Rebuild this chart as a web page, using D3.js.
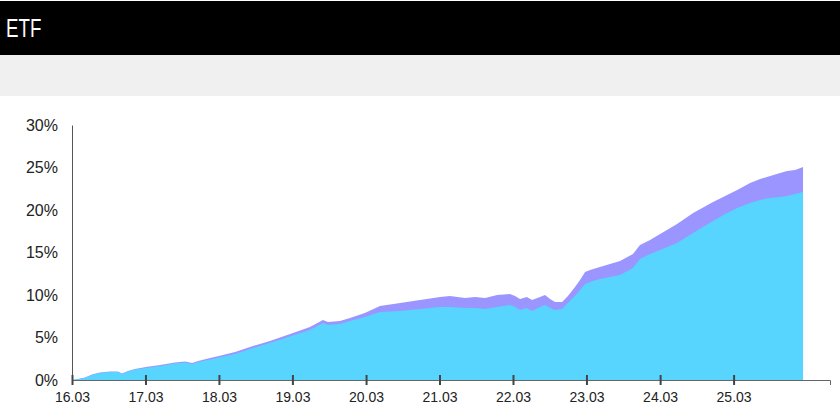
<!DOCTYPE html>
<html>
<head>
<meta charset="utf-8">
<script src="https://cdn.jsdelivr.net/npm/d3@7"></script>
<style>
  body { margin: 0; background: #fff; }
  svg { display: block; }
  .title { font-family: "Liberation Sans", Arial, sans-serif; fill: #fff; }
  .axis text { font-family: "Liberation Sans", Arial, sans-serif; fill: #222; }
</style>
</head>
<body>
<div id="chart"></div>
<script>
// dates of the readings
const dates = [
  "2016-03-01","2016-03-31","2016-05-05","2016-06-08","2016-07-18","2016-09-06","2016-10-16","2016-11-04","2016-12-04","2017-01-08",
  "2017-03-03","2017-05-13","2017-07-26","2017-09-14","2017-10-19","2017-11-18","2018-01-16","2018-03-01","2018-05-20","2018-08-17",
  "2018-11-09","2019-03-04","2019-05-27","2019-07-31","2019-08-24","2019-10-23","2019-12-12","2020-02-24","2020-05-09","2020-08-17",
  "2020-11-24","2021-03-04","2021-04-22","2021-07-06","2021-08-24","2021-10-13","2021-12-12","2022-02-14","2022-03-11","2022-04-05",
  "2022-05-09","2022-06-04","2022-07-13","2022-08-07","2022-09-01","2022-09-26","2022-10-31","2022-11-29","2023-01-03","2023-01-28",
  "2023-02-22","2023-03-19","2023-05-07","2023-06-26","2023-08-15","2023-10-18","2023-11-22","2024-01-11","2024-03-01","2024-05-24",
  "2024-08-12","2024-11-19","2025-01-18","2025-03-19","2025-05-22","2025-07-11","2025-08-30","2025-10-18","2025-11-22","2026-01-01",
  "2026-02-09"
];

// upper series (purple), in %
const totalReturn = [
  0, 0.12, 0.29, 0.65, 0.88, 1.0, 1.0, 0.76, 1.06, 1.29,
  1.53, 1.76, 2.06, 2.18, 2.0, 2.24, 2.59, 2.82, 3.29, 4.0,
  4.59, 5.53, 6.24, 7.06, 6.82, 6.94, 7.29, 7.88, 8.71, 9.06,
  9.41, 9.76, 9.88, 9.65, 9.76, 9.65, 10.0, 10.12, 9.88, 9.53,
  9.76, 9.41, 9.76, 10.0, 9.53, 9.18, 9.18, 9.88, 10.94, 11.76,
  12.71, 12.94, 13.29, 13.65, 14.0, 14.82, 15.88, 16.47, 17.18, 18.35,
  19.65, 20.94, 21.65, 22.35, 23.18, 23.65, 24.0, 24.35, 24.59, 24.71,
  25.06
];

// lower series (cyan), in %
const priceReturn = [
  0, 0.12, 0.24, 0.59, 0.82, 0.94, 0.94, 0.71, 1.0, 1.24,
  1.41, 1.65, 1.94, 2.06, 1.88, 2.12, 2.41, 2.65, 3.06, 3.76,
  4.35, 5.24, 5.88, 6.71, 6.47, 6.59, 6.94, 7.41, 8.0, 8.12,
  8.35, 8.59, 8.59, 8.47, 8.47, 8.35, 8.59, 8.82, 8.59, 8.24,
  8.47, 8.12, 8.59, 8.82, 8.47, 8.24, 8.35, 9.06, 9.88, 10.59,
  11.29, 11.53, 11.88, 12.12, 12.35, 13.18, 14.24, 14.82, 15.29, 16.12,
  17.29, 18.71, 19.53, 20.24, 20.82, 21.18, 21.41, 21.53, 21.65, 21.88,
  22.12
];

const xTickLabels = ["16.03","17.03","18.03","19.03","20.03","21.03","22.03","23.03","24.03","25.03"];
const yTicks = [0, 5, 10, 15, 20, 25, 30];

const width = 840;
const height = 409;
const plotLeft = 72, plotRight = 830, plotTop = 125, plotBottom = 380;

const parse = d3.timeParse("%Y-%m-%d");
const tickParse = d3.timeParse("%y.%m");

const data = dates.map((d, i) => ({ date: parse(d), total: totalReturn[i], price: priceReturn[i] }));

const svg = d3.select("#chart")
  .append("svg")
  .attr("width", width)
  .attr("height", height);

// header bands
svg.append("rect").attr("x", 0).attr("y", 1).attr("width", width).attr("height", 54).attr("fill", "#000");
svg.append("rect").attr("x", 0).attr("y", 55).attr("width", width).attr("height", 41).attr("fill", "#f0f0f0");
// narrow title, squeezed horizontally
svg.append("text")
  .attr("class", "title")
  .attr("transform", "translate(6,37) scale(0.72,1)")
  .style("font-size", "26px")
  .text("ETF");

const xScale = d3.scaleTime()
  .domain([parse("2016-03-01"), parse("2026-06-23")])
  .range([plotLeft, plotRight]);
const yScale = d3.scaleLinear()
  .domain([0, 30])
  .range([plotBottom, plotTop]);

const areaTotal = d3.area()
  .x(d => xScale(d.date))
  .y0(yScale(0))
  .y1(d => yScale(d.total));
const areaPrice = d3.area()
  .x(d => xScale(d.date))
  .y0(yScale(0))
  .y1(d => yScale(d.price));

svg.append("path").datum(data).attr("d", areaTotal).attr("fill", "#9b96ff");
svg.append("path").datum(data).attr("d", areaPrice).attr("fill", "#58d5ff");

const yAxis = d3.axisLeft(yScale)
  .tickValues(yTicks)
  .tickSize(0)
  .tickPadding(14)
  .tickFormat(d => d + "%");
const gy = svg.append("g")
  .attr("class", "axis")
  .attr("transform", "translate(" + plotLeft + ",0)")
  .call(yAxis);
gy.select(".domain").attr("stroke", "#555");
gy.selectAll("text").style("font-size", "16px");

const xAxis = d3.axisBottom(xScale)
  .tickValues(xTickLabels.map(t => tickParse(t)))
  .tickSizeOuter(0)
  .tickSize(5)
  .tickPadding(7)
  .tickFormat(d3.timeFormat("%y.%m"));
const gx = svg.append("g")
  .attr("class", "axis")
  .attr("transform", "translate(0," + plotBottom + ")")
  .call(xAxis);
gx.select(".domain").attr("stroke", "#666");
gx.selectAll(".tick line").attr("y1", -5).attr("y2", 5).attr("stroke", "#444").attr("stroke-width", 2);
gx.selectAll("text").style("font-size", "14px");
</script>
</body>
</html>
